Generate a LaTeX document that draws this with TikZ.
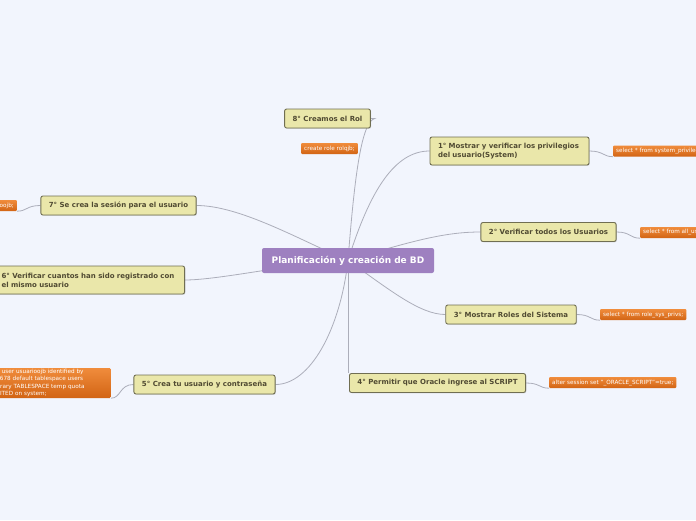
\documentclass[tikz,border=0pt]{standalone}
\usepackage{fontspec}
\setmainfont{DejaVu Sans}
\usetikzlibrary{positioning, shadows, backgrounds}

\definecolor{bgblue}{RGB}{242,245,253}
\definecolor{topicfill}{RGB}{234,231,170}
\definecolor{topicline}{RGB}{112,110,82}
\definecolor{topictext}{RGB}{80,74,50}
\definecolor{rootfill}{RGB}{158,128,192}
\definecolor{leaftop}{RGB}{240,140,60}
\definecolor{leafbot}{RGB}{210,100,20}
\definecolor{linegray}{RGB}{172,174,186}

\begin{document}
\begin{tikzpicture}[
    x=1pt, y=-1pt,
    topic/.style={
        draw=topicline,
        fill=topicfill,
        rounded corners=2pt,
        line width=0.9pt,
        text=topictext,
        font=\fontsize{7}{9}\selectfont\bfseries,
        inner xsep=8pt,
        inner ysep=2pt,
        minimum height=19pt,
        drop shadow={shadow xshift=0.8pt, shadow yshift=-0.8pt, opacity=0.25}
    },
    root/.style={
        fill=rootfill,
        rounded corners=2pt,
        text=white,
        font=\fontsize{9}{10}\selectfont\bfseries,
        minimum width=172pt,
        minimum height=25pt
    },
    leaf/.style={
        top color=leaftop,
        bottom color=leafbot,
        rounded corners=1pt,
        text=white,
        font=\fontsize{5.7}{7.2}\selectfont,
        inner xsep=3pt,
        inner ysep=1pt,
        minimum height=11pt
    },
    branch/.style={draw=linegray, line width=0.8pt}
]

\clip (0,0) rectangle (696,520);

% central topic
\node[root] (bd) at (348,260.5) {Planificación y creación de BD};

% main topics
\node[topic] (n8) at (327.5,118.5) {8° Creamos el Rol};
\node[topic, align=left, text width=143pt, minimum height=28pt] (n1) at (509.5,151) {1° Mostrar y verificar los privilegios\\del usuario(System)};
\node[topic] (n2) at (548.5,232) {2° Verificar todos los Usuarios};
\node[topic] (n3) at (511,314.5) {3° Mostrar Roles del Sistema};
\node[topic] (n4) at (437.5,383) {4° Permitir que Oracle ingrese al SCRIPT};
\node[topic] (n5) at (204.5,384.5) {5° Crea tu usuario y contraseña};
\node[topic, align=left, text width=175pt, minimum height=28pt, anchor=east] (n6) at (185,280) {6° Verificar cuantos han sido registrado con\\el mismo usuario};
\node[topic] (n7) at (118.5,205.5) {7° Se crea la sesión para el usuario};

% leaves
\node[leaf] (l8) at (329.5,148.5) {create role rolqjb;};
\node[leaf, anchor=west] (l1) at (613,151) {select * from system\_privilege\_map;};
\node[leaf, anchor=west] (l2) at (640,232.5) {select * from all\_users;};
\node[leaf, anchor=west] (l3) at (600,314.5) {select * from  role\_sys\_privs;};
\node[leaf, anchor=west] (l4) at (549,382.5) {alter session set "\_ORACLE\_SCRIPT"=true;};
\node[leaf, anchor=east, align=left, text width=126pt, minimum height=30pt] (l5) at (111,383) {create user usuarioojb identified by\\12345678 default tablespace users\\temporary TABLESPACE temp quota\\UNLIMITED on system;};
\node[leaf, anchor=east] (l7) at (17,205.5) {grant create session to usuarioojb;};

\begin{scope}[on background layer]
\fill[bgblue] (0,0) rectangle (696,520);
% connectors
\draw[branch] (bd.center) .. controls (355,170) and (362,122) .. ([xshift=4pt]n8.east) -- (n8.east);
\draw[branch] (bd.center) .. controls (370,190) and (395,151) .. (n1.west);
\draw[branch] (bd.center) .. controls (420,238) and (450,232) .. (n2.west);
\draw[branch] (bd.center) .. controls (390,290) and (420,314.5) .. (n3.west);
\draw[branch] (bd.center) -- (n4.north -| bd.center);
\draw[branch] (bd.center) .. controls (340,330) and (310,384.5) .. (n5.east);
\draw[branch] (bd.center) .. controls (300,262) and (220,280) .. (n6.east);
\draw[branch] (bd.center) .. controls (300,240) and (240,205.5) .. (n7.east);
\draw[branch] (n1.east) .. controls +(14,0) and +(-10,0) .. (l1.south west);
\draw[branch] (n2.east) .. controls +(14,0) and +(-10,0) .. (l2.south west);
\draw[branch] (n3.east) .. controls +(14,0) and +(-10,0) .. (l3.south west);
\draw[branch] (n4.east) .. controls +(14,0) and +(-10,0) .. (l4.south west);
\draw[branch] (n5.west) .. controls +(-14,0) and +(10,0) .. (l5.south east);
\draw[branch] (n7.west) .. controls +(-14,0) and +(10,0) .. (l7.south east);
\end{scope}

\end{tikzpicture}
\end{document}
